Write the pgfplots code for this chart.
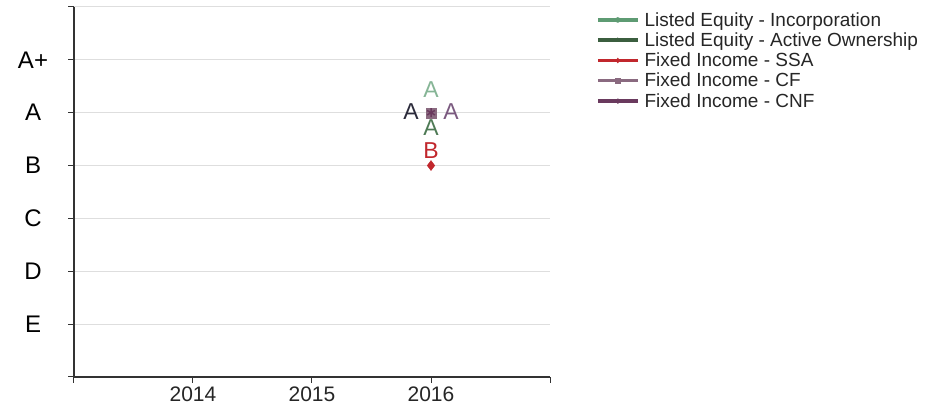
\documentclass[border=0pt]{standalone}
\usepackage{fontspec}
\setmainfont{Liberation Sans}
\usepackage{pgfplots}
\pgfplotsset{compat=1.18}
\definecolor{cInc}{HTML}{5E9B73}
\definecolor{cAct}{HTML}{3B5E3F}
\definecolor{cSSA}{HTML}{C1272D}
\definecolor{cCF}{HTML}{8A6A80}
\definecolor{cCNF}{HTML}{6A3A5E}
\definecolor{lInc}{HTML}{86B596}
\definecolor{lAct}{HTML}{4E7A55}
\definecolor{lCNF}{HTML}{2B2B3B}
\definecolor{lCF}{HTML}{7B5A80}
\newcommand{\lblfont}{\fontsize{23}{25}\selectfont}
\begin{document}
\begin{tikzpicture}
\path[use as bounding box] (-74pt,-29pt) rectangle (866pt,377pt);
\begin{axis}[
  scale only axis, width=476pt, height=370pt,
  xmin=2013, xmax=2017, ymin=0, ymax=7,
  axis x line=bottom, axis y line=left,
  axis line style={-, draw=black!80, line width=1.2pt},
  tick align=outside, major tick length=6pt,
  tick style={draw=black!80, line width=1pt},
  xtick={2013,2014,2015,2016,2017}, xticklabels={,2014,2015,2016,},
  ytick={0,1,2,3,4,5,6,7}, yticklabels={,E,D,C,B,A,A+,},
  ymajorgrids, grid style={draw=black!13, line width=1pt},
  xticklabel style={font=\fontsize{21}{23}\selectfont, text=black!85},
  yticklabel style={font=\fontsize{24}{26}\selectfont, anchor=center, xshift=-35pt},
  legend style={at={(1.09,0.997)}, anchor=north west, draw=none, fill=none,
    font=\fontsize{19}{20}\selectfont, row sep=1pt, text=black!85,
    nodes={inner xsep=5pt}},
  legend cell align=left,
  legend image code/.code={\draw[mark repeat=2,mark phase=2,#1,mark size=2.5pt] plot coordinates {(0pt,0pt) (20pt,0pt) (40pt,0pt)};},
]
\addplot[color=cInc, line width=3.5pt, mark=*, mark size=4pt, mark options={line width=0.4pt, fill=cInc},
  nodes near coords={A}, every node near coord/.append style={font=\lblfont, anchor=center, yshift=23pt, text=lInc}]
  coordinates {(2016,5)};
\addlegendentry{Listed Equity - Incorporation}
\addplot[color=cAct, line width=3.5pt, mark=triangle*, mark size=4pt, mark options={line width=0.4pt, fill=cAct},
  nodes near coords={A}, every node near coord/.append style={font=\lblfont, anchor=center, yshift=-15pt, text=lAct}]
  coordinates {(2016,5)};
\addlegendentry{Listed Equity - Active Ownership}
\addplot[color=cSSA, line width=3.5pt, mark=diamond*, mark size=5pt, mark options={line width=0.4pt, fill=cSSA},
  nodes near coords={B}, every node near coord/.append style={font=\lblfont, anchor=center, yshift=15pt, text=cSSA}]
  coordinates {(2016,4)};
\addlegendentry{Fixed Income - SSA}
\addplot[color=cCF, line width=3.5pt, mark=square*, mark size=5pt, mark options={line width=0.4pt, fill=cCF},
  nodes near coords={A}, every node near coord/.append style={font=\lblfont, anchor=center, xshift=20pt, yshift=1pt, text=lCF}]
  coordinates {(2016,5)};
\addlegendentry{Fixed Income - CF}
\addplot[color=cCNF, line width=3.5pt, mark=asterisk, mark size=4.5pt, mark options={line width=1.5pt},
  nodes near coords={A}, every node near coord/.append style={font=\lblfont, anchor=center, xshift=-20pt, yshift=1pt, text=lCNF}]
  coordinates {(2016,5)};
\addlegendentry{Fixed Income - CNF}
\end{axis}
\end{tikzpicture}
\end{document}
